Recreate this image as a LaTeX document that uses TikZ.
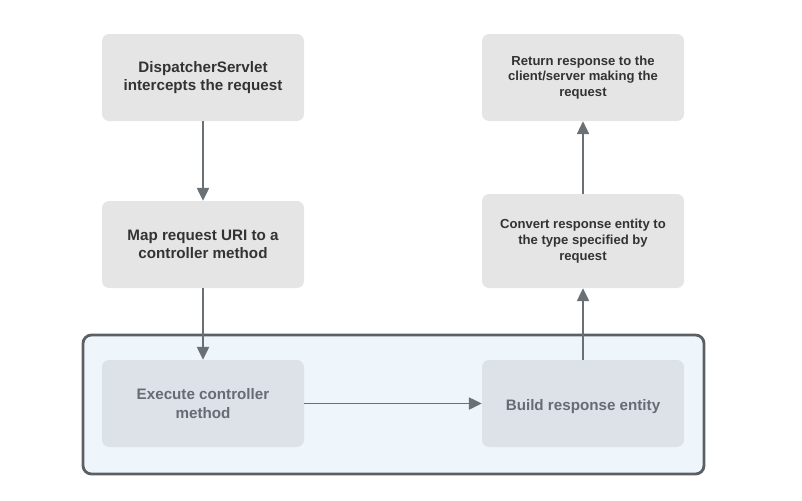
\documentclass[tikz,border=0pt]{standalone}
\usepackage{fontspec}
\setmainfont{Liberation Sans}
\usepackage{xcolor}
\usepackage{tikz}
\usetikzlibrary{arrows.meta,calc,positioning,fit}

\definecolor{boxgray}{HTML}{E5E5E5}
\definecolor{innergray}{HTML}{DDE2E8}
\definecolor{framefill}{HTML}{EEF5FB}
\definecolor{framedraw}{HTML}{5B6064}
\definecolor{linegray}{HTML}{6B7074}
\definecolor{textdark}{HTML}{333333}
\definecolor{textsoft}{HTML}{656C73}

\begin{document}
\begin{tikzpicture}[x=0.025cm,y=-0.025cm,
		arrow/.style = {line width=1.4pt,draw=linegray,-{Triangle[length=0.32cm,width=0.3cm]}}]
		\tikzset{stepbox/.style={rectangle,rounded corners=5pt,inner sep=0pt,fill=boxgray}}
		\tikzset{innerbox/.style={stepbox,fill=innergray}}
		\tikzset{bigtext/.style={align=center,text=textdark,font=\bfseries\fontsize{10.8}{13}\selectfont}}
		\tikzset{smalltext/.style={bigtext,font=\bfseries\fontsize{9.3}{11.2}\selectfont}}
		\tikzset{softtext/.style={bigtext,text=textsoft}}
		\useasboundingbox (0,0) rectangle (802,500);

		% controller container
		\node[fit={(83,335) (704,474)}, inner sep=0pt, draw=framedraw, line width=2pt, fill=framefill, rounded corners=6pt] (container) {};

		\node[fit={(102,34) (304,121)}, stepbox, label={[bigtext]center:{DispatcherServlet\\intercepts the request}}] (dispatcher) {};
		\node[fit={(102,201) (304,288)}, stepbox, label={[bigtext]center:{Map request URI to a\\controller method}}] (mapuri) {};
		\node[fit={(102,360) (304,447)}, innerbox, label={[softtext]center:{Execute controller\\method}}] (execute) {};
		\node[fit={(482,360) (684,447)}, innerbox, label={[softtext,yshift=-2pt]center:{Build response entity}}] (build) {};
		\node[fit={(482,194) (684,288)}, stepbox, label={[smalltext]center:{Convert response entity to\\the type specified by\\request}}] (convert) {};
		\node[fit={(482,34) (684,121)}, stepbox, label={[smalltext]center:{Return response to the\\client/server making the\\request}}] (return) {};

		\draw [arrow] (dispatcher) -- (mapuri);
		\draw [arrow] (mapuri) -- (execute);
		\draw [arrow] (execute) -- (build);
		\draw [arrow] (build) -- (convert);
		\draw [arrow] (convert) -- (return);

	\end{tikzpicture}
\end{document}
